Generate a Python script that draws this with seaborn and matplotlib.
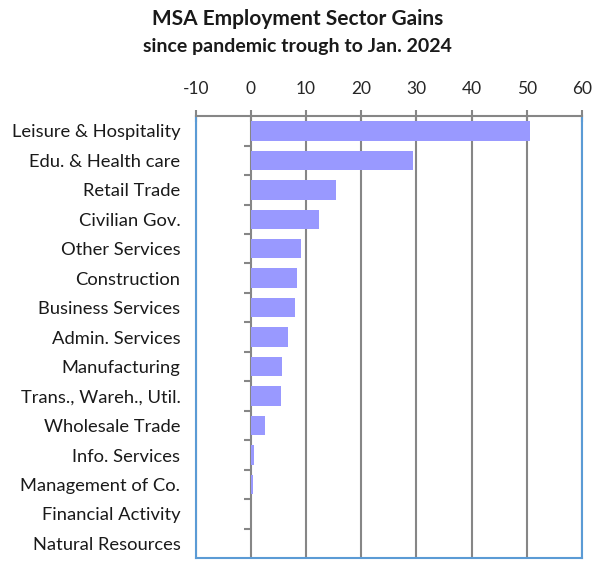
import numpy as np
import pandas as pd
import matplotlib
matplotlib.use('Agg')
import matplotlib.pyplot as plt
import seaborn as sns

# Data (thousands of jobs gained)
sectors = ['Leisure & Hospitality', 'Edu. & Health care', 'Retail Trade', 'Civilian Gov.',
           'Other Services', 'Construction', 'Business Services', 'Admin. Services',
           'Manufacturing', 'Trans., Wareh., Util.', 'Wholesale Trade', 'Info. Services',
           'Management of Co.', 'Financial Activity', 'Natural Resources']
gains = [50.5, 29.3, 15.5, 12.4, 9.1, 8.3, 8.0, 6.8, 5.6, 5.4, 2.5, 0.5, 0.35, 0.0, 0.0]
x_ticks = [-10, 0, 10, 20, 30, 40, 50, 60]

df = pd.DataFrame({'sector': sectors, 'gain': gains})

sns.set_theme(style='white')
plt.rcParams['font.family'] = ['Lato', 'DejaVu Sans']

fig = plt.figure(figsize=(5.95, 5.61), dpi=100)
ax = fig.add_axes([0.329, 0.005, 0.649, 0.788])

# gridlines behind bars
for t in x_ticks:
    ax.axvline(t, color='#868686', lw=1.5, zorder=0)

sns.barplot(data=df, x='gain', y='sector', orient='h', color='#9999FF',
            saturation=1, width=0.66, linewidth=0, ax=ax, zorder=2)

ax.set_xlim(x_ticks[0], x_ticks[-1])
ax.set_ylim(len(sectors) - 0.5, -0.5)
ax.set_xticks(x_ticks)
ax.set_xticklabels([str(t) for t in x_ticks])
ax.xaxis.tick_top()
ax.tick_params(axis='x', direction='inout', length=8, width=1.5, color='#868686',
               labelsize=12.5, labelcolor='#262626', pad=10)
ax.set_xlabel('')
ax.set_ylabel('')

# y category labels, no tick marks on the frame
ax.tick_params(axis='y', length=0, labelsize=13.2, labelcolor='#1a1a1a', pad=11)

# small tick marks at category boundaries, left of the zero line
bounds = np.arange(len(sectors) - 1) + 0.5
ax.hlines(bounds, -1.2, 0, color='#868686', lw=1.5, zorder=3)

for side in ['left', 'right', 'bottom']:
    ax.spines[side].set_color('#5B9BD5')
    ax.spines[side].set_linewidth(1.5)
ax.spines['top'].set_color('#868686')
ax.spines['top'].set_linewidth(1.5)

fig.text(0.5, 0.966, 'MSA Employment Sector Gains', ha='center', va='center',
         fontsize=15, fontweight='bold', color='#1a1a1a')
fig.text(0.5, 0.918, 'since pandemic trough to Jan. 2024', ha='center', va='center',
         fontsize=14, fontweight='bold', color='#1a1a1a')

fig.savefig('out.png', dpi=100)
